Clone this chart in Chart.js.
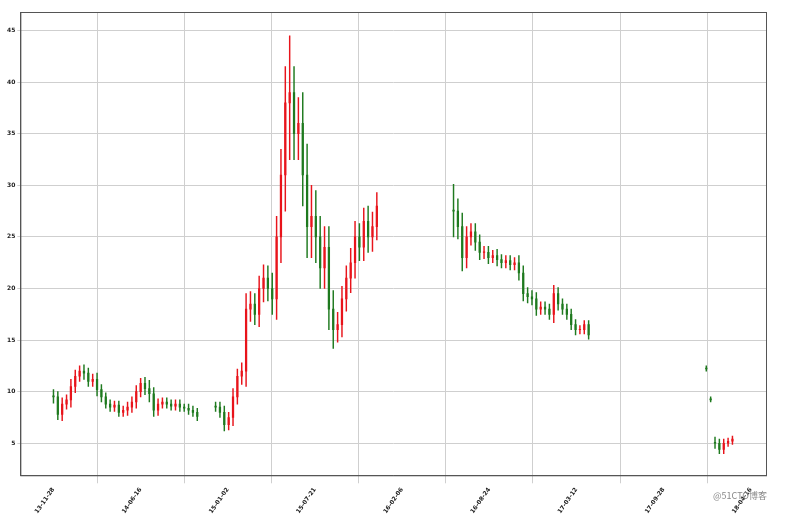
<!DOCTYPE html>
<html lang="en">
<head>
  <meta charset="UTF-8">
  <title>K-line</title>
  <script src="https://cdn.jsdelivr.net/npm/chart.js"></script>
  <style>
    body { margin: 0; background: #fff; }
    #wrap { position: relative; width: 785px; height: 518px; }
    #mark { position: absolute; right: 18px; bottom: 16px; font: 9px "Noto Sans CJK SC", sans-serif; color: #888; }
  </style>
</head>
<body>
  <div id="wrap">
    <canvas id="kChart" width="785" height="518"></canvas>
    <div id="mark">@51CTO博客</div>
  </div>
  <script>
    // tick labels every 200 days from 13-11-28
    const tickDays = [0, 200, 400, 600, 800, 1000, 1200, 1400, 1600];
    const tickLabels = ['13-11-28', '14-06-16', '15-01-02', '15-07-21', '16-02-06', '16-08-24', '17-03-12', '17-09-28', '18-04-16'];

    // segments of trading data (start day, 10-day step)
    const segStarts = [0, 372, 918, 1498];
    const seg1Close = [9.5, 7.8, 8.8, 9.2, 10.5, 11.5, 12, 11.8, 11, 11.2, 10.2, 9.5, 8.8, 8.5, 8.7, 8, 8.2, 8.5, 9, 10, 10.8, 10.3, 9.8, 8.2, 8.8, 9, 8.8, 8.6, 8.8, 8.5, 8.4, 8.2, 8, 7.6];
    const seg2Close = [8.5, 8, 6.8, 7.5, 9.5, 11.5, 12, 18, 18.5, 17.5, 20, 21, 20, 19, 25, 31, 38, 39, 35, 36, 31, 26, 27, 25, 22, 24, 18, 16, 16.5, 19, 21, 22.5, 25, 24, 26.5, 25, 26, 28];
    const seg3Close = [27.5, 26, 23, 25, 25.5, 24.5, 23.5, 23.5, 23, 23.2, 22.8, 22.5, 22.7, 22.3, 22.5, 21.5, 19.5, 19.2, 19, 18, 18.2, 18, 17.5, 19.5, 18.5, 18, 17.5, 16.5, 16, 16, 16.5, 15.5];
    const seg4Close = [12.2, 9.2, 5, 4.4, 5, 5.2, 5.4];
    const seg1Wick = [0.6, 0.5, 0.6, 0.5, 0.7, 0.6, 0.5, 0.6, 0.5, 0.5, 0.6, 0.5, 0.4, 0.4, 0.4, 0.4, 0.4, 0.5, 0.5, 0.6, 0.5, 0.6, 0.8, 0.6, 0.5, 0.4, 0.4, 0.4, 0.4, 0.4, 0.3, 0.4, 0.4, 0.4];
    const seg2Wick = [0.4, 0.5, 0.6, 0.5, 0.8, 0.7, 0.8, 1.5, 1.2, 1, 1.2, 1.3, 1.2, 1.5, 2, 2.5, 3.5, 5.5, 2.5, 2.5, 3, 3, 3, 2.5, 2, 2, 2, 1.8, 1.2, 1.2, 1.2, 1.4, 1.5, 1.3, 1.3, 1.5, 1.4, 1.3];
    const seg3Wick = [2.5, 1.2, 1.3, 1, 0.8, 0.8, 0.7, 0.6, 0.6, 0.5, 0.6, 0.5, 0.5, 0.5, 0.5, 0.7, 0.7, 0.6, 0.6, 0.6, 0.5, 0.5, 0.5, 0.8, 0.6, 0.5, 0.5, 0.5, 0.5, 0.4, 0.4, 0.4];
    const seg4Wick = [0.2, 0.2, 0.5, 0.4, 0.4, 0.3, 0.3];

    const segCloses = [seg1Close, seg2Close, seg3Close, seg4Close];
    const segWicks = [seg1Wick, seg2Wick, seg3Wick, seg4Wick];
    const bodies = [], wicks = [], colors = [];
    segCloses.forEach((closes, s) => {
      closes.forEach((c, i) => {
        const o = i === 0 || (s === 3 && i < 3) ? c + 0.1 : closes[i - 1];
        const w = segWicks[s][i];
        const x = segStarts[s] + i * 10;
        bodies.push({ x: x, y: [o, c === o ? c + 0.05 : c] });
        wicks.push({ x: x, y: [Math.min(o, c) - w, Math.max(o, c) + w] });
        colors.push(c >= o ? '#e8141b' : '#1f7a1f');
      });
    });

    new Chart(document.getElementById('kChart'), {
      type: 'bar',
      data: {
        datasets: [
          { data: wicks, backgroundColor: colors, barThickness: 0.8, grouped: false },
          { data: bodies, backgroundColor: colors, barThickness: 1.6, grouped: false }
        ]
      },
      options: {
        responsive: false,
        animation: false,
        layout: { padding: { top: 12, right: 19, left: 5, bottom: 0 } },
        plugins: { legend: { display: false }, tooltip: { enabled: false } },
        scales: {
          x: {
            type: 'linear', min: -76, max: 1635, offset: false,
            afterBuildTicks: axis => { axis.ticks = tickDays.map(v => ({ value: v })); },
            ticks: {
              font: { size: 6, family: 'DejaVu Sans', weight: 'bold' }, color: '#222',
              maxRotation: 55, minRotation: 55, autoSkip: false,
              callback: v => tickLabels[tickDays.indexOf(v)]
            },
            grid: { color: '#cfcfcf' },
            border: { color: '#555' }
          },
          y: {
            min: 1.9, max: 46.8,
            afterBuildTicks: axis => { axis.ticks = [5, 10, 15, 20, 25, 30, 35, 40, 45].map(v => ({ value: v })); },
            ticks: { font: { size: 6, family: 'DejaVu Sans', weight: 'bold' }, color: '#222', padding: 2 },
            grid: { color: '#cfcfcf', tickLength: 3 },
            border: { color: '#555' }
          }
        }
      },
      plugins: [{
        id: 'frame',
        afterDraw(chart) {
          const a = chart.chartArea, ctx = chart.ctx;
          ctx.save();
          ctx.strokeStyle = '#555';
          ctx.lineWidth = 1;
          ctx.strokeRect(a.left + 0.5, a.top + 0.5, a.right - a.left, a.bottom - a.top);
          ctx.restore();
        }
      }]
    });
  </script>
</body>
</html>
